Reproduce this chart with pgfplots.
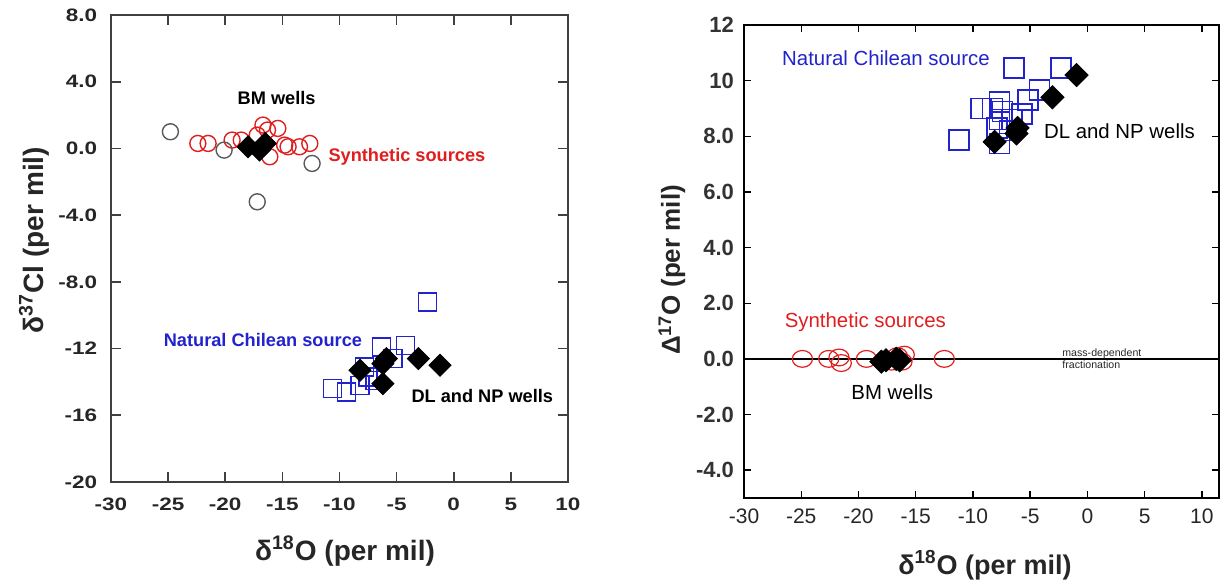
\documentclass[border=0pt]{standalone}
\usepackage{pgfplots}
\pgfplotsset{compat=1.18}
\usepackage{fontspec}
\setmainfont{Liberation Sans}
\definecolor{cred}{RGB}{225,30,30}
\definecolor{cblue}{RGB}{35,35,205}
\definecolor{cgray}{RGB}{90,90,90}
\begin{document}
\begin{tikzpicture}[x=0.5pt,y=0.5pt]
\useasboundingbox (0,0) rectangle (1220,580);
% ---------------- left panel ----------------
\begin{axis}[at={(55.5pt,49pt)}, anchor=south west, scale only axis,
  width=228.5pt, height=233.5pt,
  xmin=-30, xmax=10, ymin=-20, ymax=8,
  xtick={-30,-25,...,10}, xticklabels={-30,-25,-20,-15,-10,-5,0,5,10},
  ytick={-20,-16,...,8}, yticklabels={-20,-16,-12,-8.0,-4.0,0.0,4.0,8.0},
  tick align=inside, major tick length=5pt,
  axis line style={draw=black!75, line width=1pt},
  tick style={draw=black!75, line width=0.8pt},
  ticklabel style={font=\bfseries\fontsize{9}{10}\selectfont, text=black!85, xscale=1.25},
  xticklabel style={yshift=-4.5pt},
  yticklabel style={xshift=-2pt},
  clip=false]
\addplot[only marks, mark=o, mark size=4pt, cred, line width=0.7pt] coordinates {
 (-22.4,0.3) (-21.5,0.3) (-19.4,0.5) (-18.6,0.5) (-17.2,0.8) (-16.7,1.4)
 (-16.3,1.1) (-15.4,1.2) (-16.1,-0.5) (-14.8,0.2) (-14.5,0.1) (-13.5,0.1) (-12.6,0.3)
};
\addplot[only marks, mark=o, mark size=4pt, cgray, line width=0.7pt] coordinates {
 (-24.8,1.0) (-20.1,-0.1) (-12.4,-0.9) (-17.2,-3.2)
};
\addplot[only marks, mark=square, mark size=4.5pt, cblue, line width=0.7pt] coordinates {
 (-2.3,-9.2) (-6.3,-11.9) (-4.2,-11.8) (-5.3,-12.6) (-7.8,-13.1) (-7.5,-13.7)
 (-10.6,-14.4) (-9.4,-14.6) (-8.2,-14.2) (-6.9,-13.9)
};
\addplot[only marks, mark=square*, mark options={rotate=45}, mark size=3.9pt, black] coordinates {
 (-18.0,0.1) (-17.0,-0.1) (-16.5,0.3)
 (-8.2,-13.3) (-6.2,-12.9) (-5.9,-12.6) (-6.2,-14.1) (-3.1,-12.6) (-1.2,-13.0)
};
\node[font=\bfseries\fontsize{9.1}{11}\selectfont] at (axis cs:-15.5,3.0) {BM wells};
\node[font=\bfseries\fontsize{9.1}{11}\selectfont, text=cred] at (axis cs:-4.1,-0.5) {Synthetic sources};
\node[font=\bfseries\fontsize{9.1}{11}\selectfont, text=cblue] at (axis cs:-16.7,-11.5) {Natural Chilean source};
\node[font=\bfseries\fontsize{9.1}{11}\selectfont] at (axis cs:2.5,-14.85) {DL and NP wells};
\end{axis}
% ---------------- right panel ----------------
\begin{axis}[at={(372pt,41pt)}, anchor=south west, scale only axis,
  width=237.5pt, height=236.5pt,
  xmin=-30, xmax=11.5, ymin=-5, ymax=12,
  xtick={-30,-25,...,10}, xticklabels={-30,-25,-20,-15,-10,-5,0,5,10},
  ytick={-4,-2,...,12}, yticklabels={-4.0,-2.0,0.0,2.0,4.0,6.0,8.0,10,12},
  tick align=inside, major tick length=3.5pt,
  axis line style={draw=black, line width=0.8pt},
  tick style={draw=black, line width=0.7pt},
  yticklabel style={font=\bfseries\fontsize{11}{12}\selectfont, text=black!80, xshift=-1.5pt},
  xticklabel style={font=\fontsize{10.5}{12}\selectfont, text=black!85, yshift=-2pt},
  clip=false]
\addplot[black, line width=0.8pt] coordinates {(-30,0) (11.5,0)};
\addplot[only marks, mark=o, mark size=4.2pt, mark options={xscale=1.2}, cred, line width=0.6pt] coordinates {
 (-24.9,0) (-22.6,0) (-21.7,0.05) (-21.5,-0.15) (-19.3,0) (-17.1,-0.1)
 (-16.6,0.1) (-16.0,0.15) (-16.2,-0.1) (-12.5,0)
};
\addplot[only marks, mark=square, mark size=5pt, cblue, line width=0.7pt] coordinates {
 (-6.4,10.45) (-2.3,10.45) (-4.2,9.66) (-5.2,9.3) (-7.7,9.23) (-9.3,9.0)
 (-8.3,9.0) (-7.4,8.9) (-7.7,8.6) (-5.7,8.8) (-6.6,8.6) (-7.9,8.3)
 (-7.7,7.75) (-11.2,7.87) (-6.8,8.2)
};
\addplot[only marks, mark=square*, mark options={rotate=45}, mark size=4.1pt, black] coordinates {
 (-0.95,10.2) (-3.05,9.4) (-6.1,8.3) (-6.2,8.1) (-8.1,7.8)
 (-18.0,-0.1) (-17.6,-0.05) (-16.7,0) (-16.4,-0.05)
};
\node[font=\fontsize{10.2}{12}\selectfont, text=cblue] at (axis cs:-17.6,10.8) {Natural Chilean source};
\node[font=\fontsize{10.2}{12}\selectfont] at (axis cs:2.8,8.2) {DL and NP wells};
\node[font=\fontsize{10.2}{12}\selectfont, text=cred] at (axis cs:-19.4,1.3) {Synthetic sources};
\node[font=\fontsize{10.2}{12}\selectfont] at (axis cs:-17.05,-1.2) {BM wells};
\node[font=\fontsize{5.3}{6.2}\selectfont, align=left, anchor=west, text=black!85] at (axis cs:-2.8,0.0) {mass-dependent\\fractionation};
\end{axis}
% ---------------- axis labels ----------------
\node[font=\bfseries\fontsize{14}{16}\selectfont, text=black!85] at (345,29) {δ\textsuperscript{18}O (per mil)};
\node[font=\bfseries\fontsize{14}{16}\selectfont, text=black!85, rotate=90] at (34,340) {δ\textsuperscript{37}Cl (per mil)};
\node[font=\bfseries\fontsize{13.5}{16}\selectfont, text=black!85] at (985,15) {δ\textsuperscript{18}O (per mil)};
\node[font=\bfseries\fontsize{13}{15}\selectfont, text=black!85, rotate=90] at (672,310) {Δ\textsuperscript{17}O (per mil)};
\end{tikzpicture}
\end{document}
